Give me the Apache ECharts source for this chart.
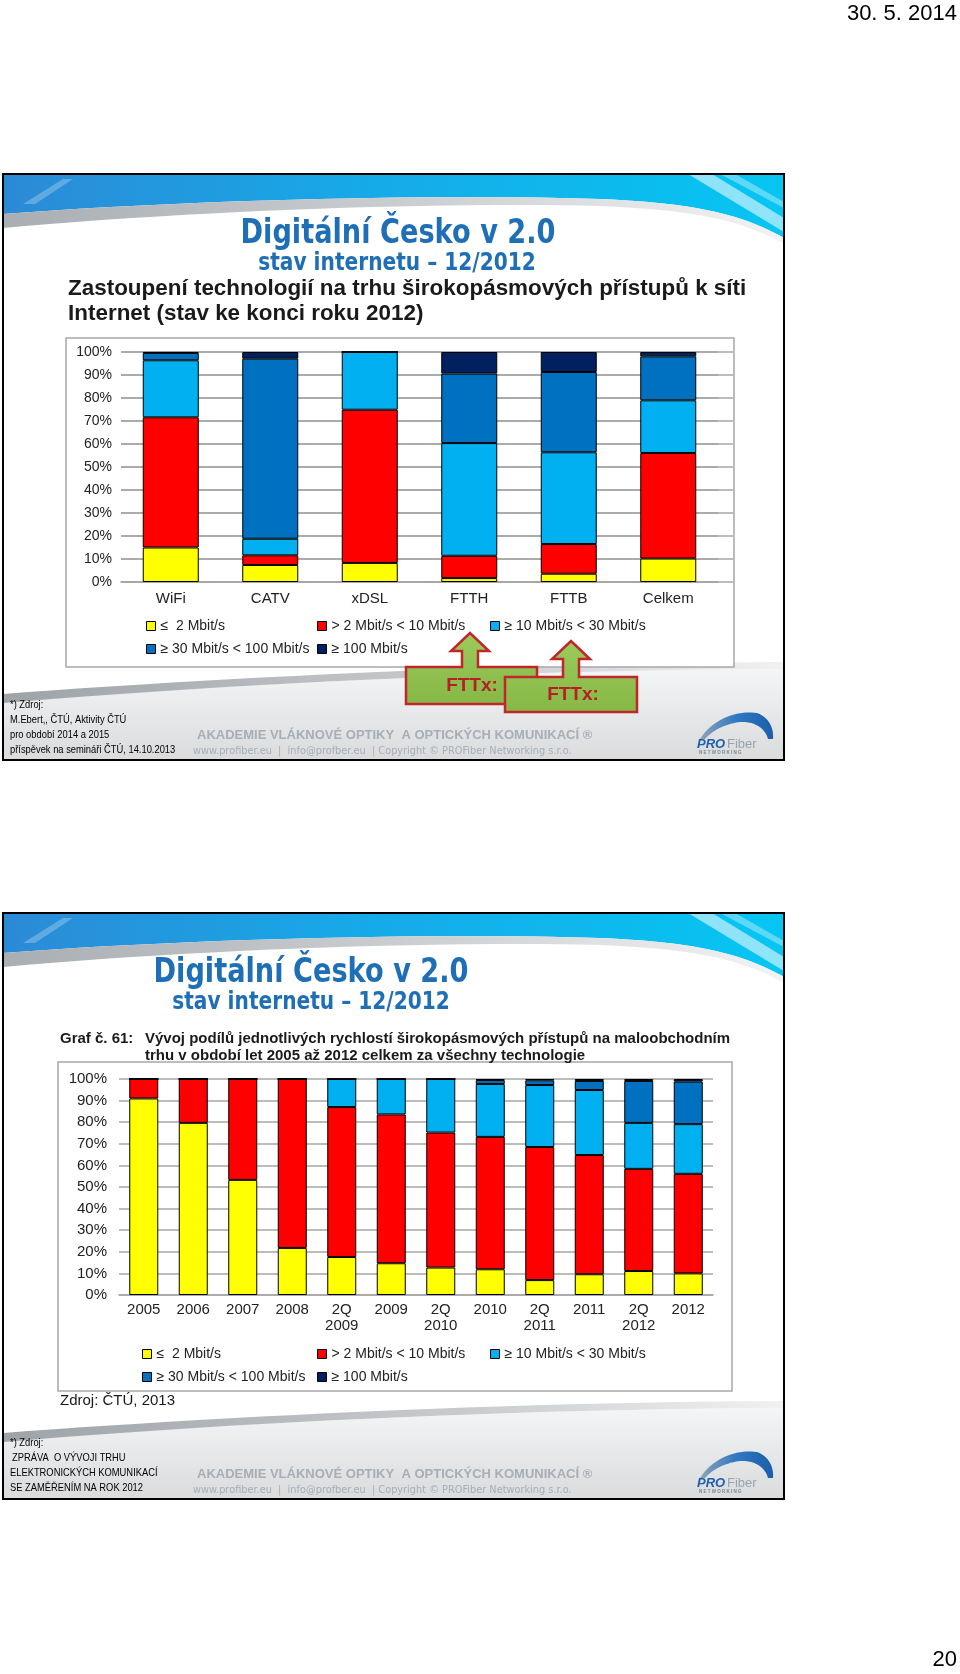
<!DOCTYPE html>
<html>
<head>
<meta charset="utf-8">
<script src="https://cdn.jsdelivr.net/npm/echarts@6/dist/echarts.min.js"></script>
<style>
html,body{margin:0;padding:0;background:#fff;}
#c{width:960px;height:1674px;}
</style>
</head>
<body>
<div id="c"></div>
<script>
// ---------- DATA ----------
const seriesNames = ['≤  2 Mbit/s', '> 2 Mbit/s < 10 Mbit/s', '≥ 10 Mbit/s < 30 Mbit/s', '≥ 30 Mbit/s < 100 Mbit/s', '≥ 100 Mbit/s'];
const seriesColors = ['#FFFF00', '#FF0000', '#00B0F0', '#0070C0', '#002060'];

// Chart 1: technologies, end of 2012 (%)
const cat1 = ['WiFi', 'CATV', 'xDSL', 'FTTH', 'FTTB', 'Celkem'];
const c1_le2      = [15.0, 7.4, 8.3, 1.7, 3.6, 10.2];
const c1_2to10    = [56.6, 4.2, 66.6, 9.7, 12.9, 45.9];
const c1_10to30   = [24.8, 7.2, 25.1, 49.0, 39.9, 22.9];
const c1_30to100  = [3.2, 78.3, 0, 30.2, 34.9, 19.1];
const c1_ge100    = [0.4, 2.9, 0, 9.4, 8.7, 1.9];

// Chart 2: development 2005-2012 (%)
const cat2 = ['2005', '2006', '2007', '2008', '2Q\n2009', '2009', '2Q\n2010', '2010', '2Q\n2011', '2011', '2Q\n2012', '2012'];
const c2_le2      = [91.0, 79.7, 53.3, 21.8, 17.6, 14.7, 12.7, 11.9, 6.9, 9.6, 11.1, 10.0];
const c2_2to10    = [9.0, 20.3, 46.7, 78.2, 69.4, 68.9, 62.5, 61.3, 61.6, 55.2, 47.3, 46.1];
const c2_10to30   = [0, 0, 0, 0, 13.0, 16.4, 24.8, 24.5, 28.7, 30.1, 21.3, 23.0];
const c2_30to100  = [0, 0, 0, 0, 0, 0, 0, 1.8, 2.2, 4.2, 19.4, 19.7];
const c2_ge100    = [0, 0, 0, 0, 0, 0, 0, 0.5, 0.6, 0.9, 0.9, 1.2];

const yTicks = {min: 0, max: 100, interval: 10};

// ---------- LAYOUT ----------
const S1 = 174, S2 = 913;   // slide tops
const SW = 781, SH = 586, SX = 3;

const chart = echarts.init(document.getElementById('c'), null, {renderer: 'canvas'});

function txt(x, y, text, font, fill, align, sx) {
  return {
    type: 'text', x: x, y: y, scaleX: sx || 1, z: 20,
    style: {text: text, font: font, fill: fill || '#000',
      textAlign: align || 'left', align: align || 'left',
      textVerticalAlign: 'middle', verticalAlign: 'middle'}
  };
}

// sample a path of M/L/C commands into polygon points
function pts(cmds) {
  const out = [];
  let cx = 0, cy = 0;
  cmds.forEach(c => {
    if (c[0] === 'M' || c[0] === 'L') { cx = c[1]; cy = c[2]; out.push([cx, cy]); }
    else if (c[0] === 'C') {
      const [, x1, y1, x2, y2, x3, y3] = c;
      for (let i = 1; i <= 24; i++) {
        const t = i / 24, u = 1 - t;
        out.push([u*u*u*cx + 3*u*u*t*x1 + 3*u*t*t*x2 + t*t*t*x3, u*u*u*cy + 3*u*u*t*y1 + 3*u*t*t*y2 + t*t*t*y3]);
      }
      cx = x3; cy = y3;
    }
  });
  return out;
}
function poly(cmds, style, z) { return {type: 'polygon', z: z, shape: {points: pts(cmds)}, style: style}; }
const lin = (x2, y2, stops) => ({type: 'linear', x: 0, y: 0, x2: x2, y2: y2, colorStops: stops.map(s => ({offset: s[0], color: s[1]}))});

function slideDecor(y0) {
  const R = SX + SW;
  const els = [];
  els.push({type: 'rect', shape: {x: SX, y: y0, width: SW, height: SH}, style: {fill: '#fff'}, z: 1});
  // footer gray area
  els.push(poly([['M', SX, y0 + SH], ['L', SX, y0 + 528], ['C', 200, y0 + 512, 500, y0 + 496, R, y0 + 495], ['L', R, y0 + SH]],
    {fill: lin(0, 1, [[0, '#F4F5F6'], [1, '#D9DBDD']])}, 2));
  // footer swoosh
  els.push(poly([['M', SX, y0 + 520], ['C', 200, y0 + 505, 500, y0 + 489, R, y0 + 488], ['L', R, y0 + 495], ['C', 500, y0 + 496, 200, y0 + 512, SX, y0 + 529]],
    {fill: lin(1, 0, [[0, '#9EA3A8'], [0.6, '#C9CCCF'], [1, '#F0F1F2']])}, 3));
  // top blue band
  els.push(poly([['M', SX, y0], ['L', R, y0], ['L', R, y0 + 64], ['C', 745, y0 + 42, 700, y0 + 29, 600, y0 + 25], ['C', 450, y0 + 20, 200, y0 + 25, SX, y0 + 40]],
    {fill: lin(1, 0, [[0, '#2C8AD6'], [0.45, '#17A9E8'], [1, '#06C6F2']])}, 3));
  els.push({type: 'polygon', z: 4, shape: {points: [[688, y0], [712, y0], [R, y0 + 44], [R, y0 + 58]]}, style: {fill: 'rgba(255,255,255,0.55)'}});
  els.push({type: 'polygon', z: 4, shape: {points: [[720, y0], [735, y0], [R, y0 + 28], [R, y0 + 34]]}, style: {fill: 'rgba(255,255,255,0.35)'}});
  els.push({type: 'polygon', z: 4, shape: {points: [[SX + 20, y0 + 30], [SX + 60, y0 + 5], [SX + 70, y0 + 5], [SX + 32, y0 + 30]]}, style: {fill: 'rgba(255,255,255,0.25)'}});
  // gray swoosh under blue
  els.push(poly([['M', SX, y0 + 40], ['C', 200, y0 + 25, 450, y0 + 20, 600, y0 + 25], ['C', 700, y0 + 29, 745, y0 + 42, R, y0 + 64], ['L', R, y0 + 70],
    ['C', 745, y0 + 48, 700, y0 + 36, 600, y0 + 32], ['C', 450, y0 + 28, 200, y0 + 36, SX, y0 + 54]],
    {fill: lin(1, 0, [[0, '#A9AEB3'], [0.55, '#CDD0D3'], [1, '#F2F3F4']])}, 4));
  els.push({type: 'rect', z: 30, shape: {x: SX, y: y0, width: SW, height: SH}, style: {fill: 'none', stroke: '#000', lineWidth: 2}});
  els.push(txt(197, y0 + 561, 'AKADEMIE VLÁKNOVÉ OPTIKY  A OPTICKÝCH KOMUNIKACÍ ®', 'bold 13px "Liberation Sans", Arial', '#A7AEB5', 'left'));
  els.push(txt(193, y0 + 577, 'www.profiber.eu  |  info@profber.eu  | Copyright © PROFiber Networking s.r.o.', '10.5px "DejaVu Sans"', '#A7AEB5', 'left', 0.93));
  // logo
  els.push(poly([['M', 700, y0 + 565], ['C', 712, y0 + 546, 735, y0 + 536, 757, y0 + 539], ['C', 768, y0 + 543, 774, y0 + 553, 773, y0 + 565], ['L', 768, y0 + 565],
    ['C', 765, y0 + 554, 754, y0 + 547, 740, y0 + 548], ['C', 724, y0 + 550, 712, y0 + 557, 705, y0 + 565]],
    {fill: lin(1, 0, [[0, '#8FA3B5'], [0.5, '#2F78C4'], [1, '#1C5FA8']])}, 20));
  els.push(txt(697, y0 + 570, 'PRO', 'bold italic 13px "Liberation Sans", Arial', '#1F5FB0', 'left'));
  els.push(txt(727, y0 + 570, 'Fiber', '13px "Liberation Sans", Arial', '#9AA4AE', 'left'));
  els.push(txt(699, y0 + 579, 'N E T W O R K I N G', 'bold 4.5px "Liberation Sans", Arial', '#7A8590', 'left'));
  return els;
}

const narrow = (s) => s + 'px "Liberation Sans", Arial';

let graphic = [];
graphic = graphic.concat(slideDecor(S1), slideDecor(S2));

graphic.push(txt(957, 14, '30. 5. 2014', '22px "Liberation Sans", Arial', '#000', 'right'));
graphic.push(txt(957, 1660, '20', '22px "Liberation Sans", Arial', '#000', 'right'));

// slide 1 titles
graphic.push(txt(398, 234, 'Digitální Česko v 2.0', 'bold 34px "DejaVu Sans"', '#1F6FB7', 'center', 0.8));
graphic.push(txt(397, 264, 'stav internetu – 12/2012', 'bold 24px "DejaVu Sans"', '#1F6FB7', 'center', 0.84));
graphic.push(txt(68, 289, 'Zastoupení technologií na trhu širokopásmových přístupů k síti', 'bold 22px "Liberation Sans", Arial', '#1A1A1A', 'left', 1.02));
graphic.push(txt(68, 314, 'Internet (stav ke konci roku 2012)', 'bold 22px "Liberation Sans", Arial', '#1A1A1A', 'left', 1.02));
graphic.push({type: 'rect', z: 5, shape: {x: 66, y: 338, width: 668, height: 329}, style: {fill: '#fff', stroke: '#A8A8A8', lineWidth: 1.5}});
graphic.push(txt(10, 705, '*) Zdroj:', narrow(11), '#000', 'left', 0.85));
graphic.push(txt(10, 720, 'M.Ebert,, ČTÚ, Aktivity ČTÚ', narrow(11), '#000', 'left', 0.85));
graphic.push(txt(10, 735, 'pro období 2014 a 2015', narrow(11), '#000', 'left', 0.85));
graphic.push(txt(10, 750, 'příspěvek na semináři ČTÚ, 14.10.2013', narrow(11), '#000', 'left', 0.85));

// FTTx callouts
function callout(bx1, by1, bx2, by2, tipX, tipY, sw, hw, headY, z) {
  return {type: 'polygon', z: z,
    shape: {points: [[bx1, by2], [bx1, by1], [tipX - sw, by1], [tipX - sw, headY], [tipX - hw, headY], [tipX, tipY], [tipX + hw, headY], [tipX + sw, headY], [tipX + sw, by1], [bx2, by1], [bx2, by2]]},
    style: {fill: lin(0, 1, [[0, '#9CCB5C'], [1, '#86B845']]), stroke: '#C0262C', lineWidth: 2.5, lineJoin: 'miter'}};
}
graphic.push(callout(406, 667, 537, 704, 470, 633, 8, 19, 651, 25));
graphic.push(Object.assign(txt(472, 686, 'FTTx:', 'bold 19px "Liberation Sans", Arial', '#B51F25', 'center'), {z: 25}));
graphic.push(callout(505, 677, 637, 712, 571, 641, 8, 19, 659, 26));
graphic.push(Object.assign(txt(573, 695, 'FTTx:', 'bold 19px "Liberation Sans", Arial', '#B51F25', 'center'), {z: 27}));

// slide 2 titles
graphic.push(txt(311, 973, 'Digitální Česko v 2.0', 'bold 34px "DejaVu Sans"', '#1F6FB7', 'center', 0.8));
graphic.push(txt(311, 1003, 'stav internetu – 12/2012', 'bold 24px "DejaVu Sans"', '#1F6FB7', 'center', 0.84));
graphic.push(txt(60, 1039, 'Graf č. 61:', 'bold 15px "Liberation Sans", Arial', '#1A1A1A', 'left'));
graphic.push(txt(145, 1039, 'Vývoj podílů jednotlivých rychlostí širokopásmových přístupů na maloobchodním', 'bold 15px "Liberation Sans", Arial', '#1A1A1A', 'left'));
graphic.push(txt(145, 1056, 'trhu v období let 2005 až 2012 celkem za všechny technologie', 'bold 15px "Liberation Sans", Arial', '#1A1A1A', 'left'));
graphic.push({type: 'rect', z: 5, shape: {x: 58, y: 1062, width: 674, height: 329}, style: {fill: '#fff', stroke: '#A8A8A8', lineWidth: 1.5}});
graphic.push(txt(60, 1401, 'Zdroj: ČTÚ, 2013', '15px "Liberation Sans", Arial', '#1A1A1A', 'left'));
graphic.push(txt(10, 1443, '*) Zdroj:', narrow(11), '#000', 'left', 0.85));
graphic.push(txt(12, 1458, 'ZPRÁVA  O VÝVOJI TRHU', narrow(11), '#000', 'left', 0.85));
graphic.push(txt(10, 1473, 'ELEKTRONICKÝCH KOMUNIKACÍ', narrow(11), '#000', 'left', 0.85));
graphic.push(txt(10, 1488, 'SE ZAMĚŘENÍM NA ROK 2012', narrow(11), '#000', 'left', 0.85));

// ---------- CHART OPTIONS ----------
const c1Data = [c1_le2, c1_2to10, c1_10to30, c1_30to100, c1_ge100];
const c2Data = [c2_le2, c2_2to10, c2_10to30, c2_30to100, c2_ge100];

const series = [];
seriesNames.forEach((n, i) => {
  series.push({name: n, type: 'bar', stack: 'c1', xAxisIndex: 0, yAxisIndex: 0, data: c1Data[i], barWidth: 56, z: 10,
    itemStyle: {color: seriesColors[i], borderColor: '#000', borderWidth: 1}, emphasis: {disabled: true}});
});
seriesNames.forEach((n, i) => {
  series.push({name: n, type: 'bar', stack: 'c2', xAxisIndex: 1, yAxisIndex: 1, data: c2Data[i], barWidth: 29, z: 10,
    itemStyle: {color: seriesColors[i], borderColor: '#000', borderWidth: 1}, emphasis: {disabled: true}});
});

function legendsAt(rows) {
  return rows.map(r => ({
    data: [seriesNames[r.i]], left: r.x - 5, top: r.y - 10, icon: 'rect', itemWidth: 9, itemHeight: 9, z: 20,
    itemStyle: {borderColor: '#000', borderWidth: 1}, selectedMode: false,
    textStyle: {fontFamily: 'Liberation Sans, Arial', fontSize: 14, color: '#222'}
  }));
}
const legends = legendsAt([
  {i: 0, x: 146, y: 624}, {i: 1, x: 317, y: 624}, {i: 2, x: 490, y: 624},
  {i: 3, x: 146, y: 647}, {i: 4, x: 317, y: 647},
  {i: 0, x: 142, y: 1352}, {i: 1, x: 317, y: 1352}, {i: 2, x: 490, y: 1352},
  {i: 3, x: 142, y: 1375}, {i: 4, x: 317, y: 1375}
]);

const yAxisBase = (fs, margin) => ({
  type: 'value', min: yTicks.min, max: yTicks.max, interval: yTicks.interval, z: 6,
  axisLine: {show: false}, axisTick: {show: false},
  axisLabel: {formatter: '{value}%', fontFamily: 'Liberation Sans, Arial', fontSize: fs, color: '#222', margin: margin},
  splitLine: {lineStyle: {color: '#A6A6A6', width: 1.5}}
});

const option = {
  animation: false,
  backgroundColor: '#fff',
  graphic: {elements: graphic},
  legend: legends,
  grid: [
    {left: 121, top: 352, width: 597, height: 230, containLabel: false, z: 6},
    {left: 119, top: 1079, width: 594, height: 216, containLabel: false, z: 6},
    // wider gridline band of chart 1 (lines run to the frame)
    {left: 121, top: 352, width: 612, height: 230, containLabel: false, z: 6}
  ],
  xAxis: [
    {type: 'category', gridIndex: 0, data: cat1, z: 6,
      axisLine: {lineStyle: {color: '#A6A6A6', width: 1.5}}, axisTick: {show: false},
      axisLabel: {fontFamily: 'Liberation Sans, Arial', fontSize: 15, color: '#222', margin: 9}},
    {type: 'category', gridIndex: 1, data: cat2, z: 6,
      axisLine: {lineStyle: {color: '#A6A6A6', width: 1.5}}, axisTick: {show: false},
      axisLabel: {fontFamily: 'Liberation Sans, Arial', fontSize: 15, color: '#222', margin: 7, lineHeight: 16, interval: 0}},
    {type: 'value', gridIndex: 2, show: false, min: 0, max: 1}
  ],
  yAxis: [
    Object.assign(yAxisBase(14, 9), {gridIndex: 0}),
    Object.assign(yAxisBase(15, 12), {gridIndex: 1}),
    {type: 'value', gridIndex: 2, min: yTicks.min, max: yTicks.max, interval: yTicks.interval, z: 6,
      axisLine: {show: false}, axisTick: {show: false}, axisLabel: {show: false},
      splitLine: {lineStyle: {color: '#A6A6A6', width: 1.5}}}
  ],
  series: series
};
chart.setOption(option);
</script>
</body>
</html>
